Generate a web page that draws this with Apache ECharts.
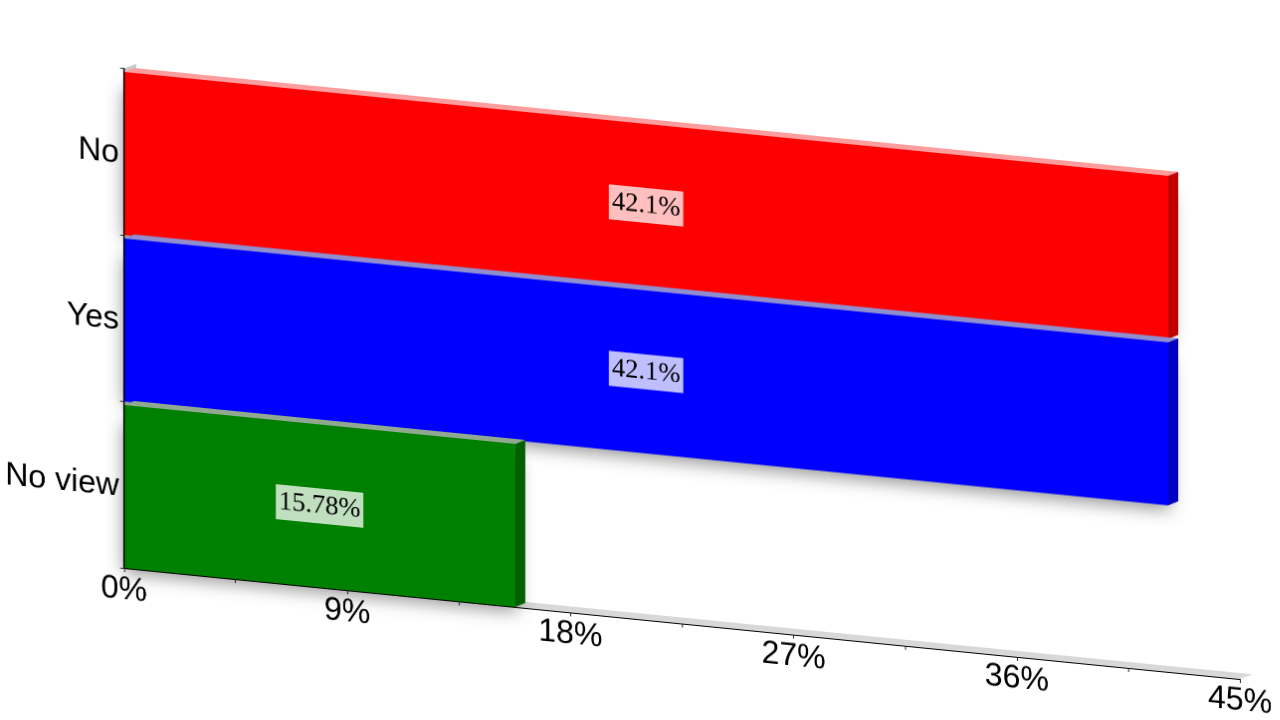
<!DOCTYPE html>
<html>
<head>
<meta charset="utf-8">
<style>
html,body{margin:0;padding:0;background:#fff;overflow:hidden}
#c{width:1280px;height:720px;transform-origin:0 0;transform:matrix(1,0.0995,0,1,0,-12.34)}
</style>
<script src="https://cdn.jsdelivr.net/npm/echarts@6/dist/echarts.min.js"></script>
</head>
<body>
<div id="c"></div>
<script>
var categories = ['No', 'Yes', 'No view'];
var values = [42.1, 42.1, 15.78];
var labels = ['42.1%', '42.1%', '15.78%'];
var frontColors = ['#ff0000', '#0000ff', '#008000'];
var topColors = ['#ff9c9c', '#8f8fcf', '#8fa88f'];
var sideColors = ['#c00000', '#0000c0', '#006000'];
var axisMax = 45;
var tickStep = 4.5;
var labelStep = 9;

var chart = echarts.init(document.getElementById('c'), null, {renderer: 'canvas', devicePixelRatio: 2});

function poly(pts, fill, extra) {
  return {type: 'polygon', shape: {points: pts}, style: Object.assign({fill: fill}, extra || {})};
}

function renderBar(params, api) {
  var i = params.dataIndex;
  var c = api.coord([api.value(0), api.value(1)]);
  var o = api.coord([0, api.value(1)]);
  var band = api.size([0, 1])[1];
  var inset = 3.5, dx = 10, dy = -5, shadowInset = 14, shadowRight = 8;
  var x0 = o[0], x1 = c[0];
  var yT = c[1] - band / 2 + inset, yB = c[1] + band / 2;
  return {
    type: 'group',
    children: [
      poly([[x0, yT + shadowInset], [x1 + dx - shadowRight, yT + shadowInset], [x1 + dx - shadowRight, yB + dy], [x1, yB], [x0, yB]], frontColors[i],
           {shadowBlur: 18, shadowColor: 'rgba(0,0,0,0.45)', shadowOffsetX: 0, shadowOffsetY: 4}),
      {type: 'rect', shape: {x: x0, y: yT, width: x1 - x0, height: yB - yT}, style: {fill: frontColors[i]}},
      poly([[x0, yT], [x0 + dx, yT + dy], [x1 + dx, yT + dy], [x1, yT]], topColors[i]),
      poly([[x1, yT], [x1 + dx, yT + dy], [x1 + dx, yB + dy], [x1, yB]], sideColors[i]),
      {type: 'text', x: (x0 + x1) / 2, y: (yT + yB) / 2,
       style: {text: labels[i], align: 'center', verticalAlign: 'middle',
               fontFamily: '"Liberation Serif", serif', fontSize: 26.5, fill: '#000',
               backgroundColor: 'rgba(255,255,255,0.75)', padding: [4, 3, 4, 3]}}
    ]
  };
}

function renderRoom(params, api) {
  var end = api.coord([api.value(0), api.value(1)]);
  var o = api.coord([0, api.value(1)]);
  var band = api.size([0, 1])[1];
  var yB = end[1] + band / 2;
  var yTop = o[1] - band / 2 - (categories.length - 1) * band;
  var dx = 12.5, dy = -6;
  return {
    type: 'group',
    children: [
      poly([[o[0], yB], [o[0] + dx, yB + dy], [end[0] + dx, yB + dy], [end[0], yB]], '#d8d8d8'),
      poly([[o[0], yTop], [o[0] + dx, yTop + dy], [o[0] + dx, yB + dy], [o[0], yB]], '#c8c8c8')
    ]
  };
}

chart.setOption({
  animation: false,
  backgroundColor: 'transparent',
  grid: {left: 124, right: 40, top: 68.5, height: 499.5},
  xAxis: {
    type: 'value', min: 0, max: axisMax, interval: tickStep, z: 5,
    splitLine: {show: false},
    axisLine: {show: true, lineStyle: {color: '#000', width: 1}},
    axisTick: {show: true, length: 4, lineStyle: {color: '#222', width: 1}},
    axisLabel: {
      show: true, margin: 6, hideOverlap: false, showMaxLabel: true, showMinLabel: true,
      fontFamily: '"Liberation Sans", sans-serif', fontSize: 32, color: '#000',
      formatter: function (v) { return v % labelStep === 0 ? v + '%' : ''; }
    }
  },
  yAxis: {
    type: 'category', data: categories, inverse: true, z: 5,
    axisLine: {show: true, lineStyle: {color: '#000', width: 1.5}},
    axisTick: {show: true, length: 4, lineStyle: {color: '#333', width: 1}},
    splitLine: {show: false},
    axisLabel: {
      show: true, margin: 5, color: '#000',
      formatter: function (v) { return '{t|' + v + '}'; },
      rich: {t: {fontFamily: '"Liberation Sans", sans-serif', fontSize: 32, color: '#000', padding: [5, 0, 0, 0]}}
    }
  },
  series: [
    {type: 'custom', z: 1, silent: true, clip: false, renderItem: renderRoom,
     encode: {x: 0, y: 1}, data: [[axisMax, categories.length - 1]]},
    {type: 'custom', z: 2, silent: true, clip: false, renderItem: renderBar,
     encode: {x: 0, y: 1},
     data: values.map(function (v, i) { return [v, i]; })}
  ]
});
</script>
</body>
</html>
